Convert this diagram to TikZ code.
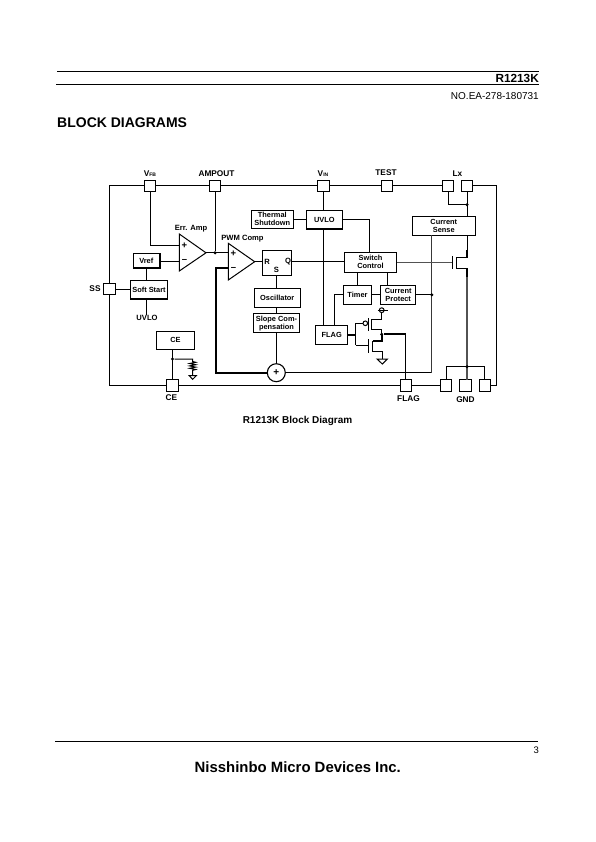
\documentclass[tikz,border=0pt]{standalone}
\usepackage{fontspec}
\setmainfont{Liberation Sans}
\usetikzlibrary{calc}
\tikzset{
  lbl/.style={font=\fontsize{7.6}{8}\selectfont\bfseries,inner sep=0pt,align=center},
  pinlbl/.style={font=\fontsize{8.3}{9}\selectfont\bfseries,inner sep=0pt,align=center},
  sgn/.style={font=\fontsize{9.5}{9.5}\selectfont\bfseries,inner sep=0pt},
  box/.style={draw,line width=1pt,fill=white,font=\fontsize{7.4}{8.6}\selectfont\bfseries,inner sep=0pt,align=center,minimum width=#1},
  pin/.style={draw,line width=1pt,fill=white,minimum width=11.5pt,minimum height=11.5pt,inner sep=0pt},
  wire/.style={line width=1pt},
  thickwire/.style={line width=1.8pt},
  graywire/.style={line width=1.3pt,black!68},
  jdot/.style={circle,fill=black,inner sep=0pt,minimum size=3.4pt},
  amp/.style={draw,line width=1pt,fill=white},
}
\begin{document}
\begin{tikzpicture}[x=1pt,y=-1pt]
\useasboundingbox (0,0) rectangle (595,842);
% page furniture
\coordinate (hl) at (57,71.2); \coordinate (hr) at (538.5,71.2);
\coordinate (hl2) at (56,84.2); \coordinate (hr2) at (538.5,84.2);
\draw[line width=.75pt] (hl) -- (hr);
\draw[line width=.75pt] (hl2) -- (hr2);
\node[anchor=base east,inner sep=0pt,font=\fontsize{11.8}{12}\selectfont\bfseries] (hdr) at (539,82.6) {R1213K};
\node[anchor=base east,inner sep=0pt,font=\fontsize{10}{12}\selectfont] (doc) at (539,100) {NO.EA-278-180731};
\node[anchor=base west,inner sep=0pt,font=\fontsize{14}{16}\selectfont\bfseries] (ttl) at (57,128) {BLOCK DIAGRAMS};
\node[anchor=base,inner sep=0pt,font=\fontsize{10}{10}\selectfont\bfseries] (cap) at (297.5,423.5) {R1213K Block Diagram};
\coordinate (fl) at (55,741); \coordinate (fr) at (537.5,741);
\draw[line width=.75pt] (fl) -- (fr);
\node[anchor=base east,inner sep=0pt,font=\fontsize{9.5}{12}\selectfont] (pg) at (539,753.5) {3};
\node[anchor=base,inner sep=0pt,font=\fontsize{14.9}{16}\selectfont\bfseries] (ft) at (297.8,772) {Nisshinbo Micro Devices Inc.};

% pins
\node[pin] (vfb) at (150,186) {};
\node[pin] (ampout) at (215,186) {};
\node[pin] (vin) at (323.3,186) {};
\node[pin] (test) at (387,186) {};
\node[pin] (lx1) at (448,186) {};
\node[pin] (lx2) at (467,186) {};
\node[pin] (ss) at (109.5,289) {};
\node[pin] (cepin) at (172.5,385.5) {};
\node[pin] (flagpin) at (406,385.5) {};
\node[pin] (g1) at (446,385.5) {};
\node[pin] (g2) at (465.5,385.5) {};
\node[pin] (g3) at (485,385.5) {};
% frame
\coordinate (c1) at (109.5,186); \coordinate (c2) at (496.5,186);
\coordinate (c3) at (496.5,385.5); \coordinate (c4) at (109.5,385.5);
\begin{scope}[wire]
\draw (vfb.west) -- (c1) -- (ss.north);
\draw (ss.south) -- (c4) -- (cepin.west);
\draw (vfb.east) -- (ampout.west);
\draw (ampout.east) -- (vin.west);
\draw (vin.east) -- (test.west);
\draw (test.east) -- (lx1.west);
\draw (lx2.east) -- (c2) -- (c3) -- (g3.east);
\draw (cepin.east) -- (flagpin.west);
\draw (flagpin.east) -- (g1.west);
\end{scope}

% blocks
\node[box=26pt,minimum height=14pt] (vref) at (146.3,260.7) {Vref};
\node[box=36.5pt,minimum height=18.5pt] (soft) at (149,289.6) {Soft Start};
\node[box=29.5pt,minimum height=24.5pt] (rs) at (277,263) {};
\node[box=45.5pt,minimum height=19pt] (osc) at (277.3,297.8) {Oscillator};
\node[box=46.5pt,minimum height=18.5pt,yshift=0pt] (slope) at (276.5,323.2) {\raisebox{-.8pt}{Slope Com-}\\pensation};
\node[box=42pt,minimum height=18pt] (therm) at (272.3,219.3) {\raisebox{-.5pt}{Thermal}\\Shutdown};
\node[box=36pt,minimum height=18pt] (uvlo) at (324.3,219.7) {UVLO};
\node[box=63pt,minimum height=19pt] (sense) at (443.8,225.8) {\raisebox{-.5pt}{Current}\\Sense};
\node[box=52.5pt,minimum height=20pt] (sw) at (370.5,262.3) {\raisebox{-.5pt}{Switch}\\Control};
\node[box=28.5pt,minimum height=19pt] (timer) at (357.5,294.8) {Timer};
\node[box=35pt,minimum height=19pt] (prot) at (398.2,294.8) {\raisebox{-.5pt}{Current}\\Protect};
\node[box=32.5pt,minimum height=18.5pt] (flagb) at (331.7,334.8) {FLAG};
\node[box=38.5pt,minimum height=18pt] (ceb) at (175.5,340.3) {CE};
\node[draw,circle,line width=1.1pt,fill=white,minimum size=18pt,inner sep=0pt,font=\fontsize{10}{10}\selectfont\bfseries] (sum) at (276.3,372.7) {+};
% shadow edges
\draw[line width=1.4pt] (vref.south west) -- (vref.south east) -- (vref.north east);
\draw[line width=1.4pt] (soft.south west) -- (soft.south east);
\draw[line width=1.4pt] (uvlo.south west) -- (uvlo.south east);

% amplifiers
\coordinate (ea1) at (179.3,234); \coordinate (ea2) at (179.3,271); \coordinate (eatip) at (206,252.8);
\coordinate (pw1) at (228.3,243.3); \coordinate (pw2) at (228.3,280); \coordinate (pwtip) at (254.7,261.7);
\draw[amp] (ea1) -- (eatip) -- (ea2) -- cycle;
\draw[amp] (pw1) -- (pwtip) -- (pw2) -- cycle;
\node[sgn] (eap) at (184.5,245.3) {+};
\node[sgn] (eam) at (184.5,261) {–};
\node[sgn] (pwp) at (233.5,254) {+};
\node[sgn] (pwm) at (233.5,268.5) {–};
\coordinate (eain1) at (179.3,245.7); \coordinate (eain2) at (179.3,261);
\coordinate (pwin1) at (228.3,252.8); \coordinate (pwin2) at (228.3,268.3);
% RS labels
\node[lbl] (rl) at (267,262) {R};
\node[lbl] (sl) at (276.5,270) {S};
\node[lbl] (ql) at (288,262) {Q};

% labels
\node[pinlbl] (lvfb) at (150,173.5) {V\raisebox{-.2pt}{\fontsize{5}{5}\selectfont FB}};
\node[pinlbl] (lamp) at (216.5,173.5) {AMPOUT};
\node[pinlbl] (lvin) at (323,173.5) {V\raisebox{-.2pt}{\fontsize{5}{5}\selectfont IN}};
\node[pinlbl] (ltest) at (386,173) {TEST};
\node[pinlbl] (llx) at (457.5,173.5) {Lx};
\node[pinlbl] (lss) at (95,288.5) {SS};
\node[lbl] (lerr) at (191,229) {Err. Amp};
\node[lbl] (lpwm) at (242.5,239) {PWM Comp};
\node[lbl] (luvlo) at (147,317.5) {UVLO};
\node[pinlbl] (lce) at (171.5,397.5) {CE};
\node[pinlbl] (lflag) at (408.5,398.5) {FLAG};
\node[pinlbl] (lgnd) at (465.5,399.5) {GND};

% left-hand wires
\begin{scope}[wire]
\draw (vfb.south) |- (eain1);
\draw (vref.east |- eain2) -- (eain2);
\draw (vref.south) -- (vref.south |- soft.north);
\draw (vref.south |- soft.south) -- (vref.south |- luvlo.north);
\draw (ss.east) -- (soft.west |- ss.east);
\draw (eatip) -- (pwin1);
\node[jdot] (j1) at (ampout.south |- pwin1) {};
\draw (ampout.south) -- (j1);
\draw (pwtip) -- (rs.west |- pwtip);
\draw (sum.north |- rs.south) -- (sum.north |- osc.north);
\draw (sum.north |- osc.south) -- (sum.north |- slope.north);
\draw (sum.north |- slope.south) -- (sum.north);
\draw (rs.east |- pwtip) -- (sw.west |- pwtip);
% CE
\draw (cepin.north |- ceb.south) -- (cepin.north);
\node[jdot] (j2) at (cepin.north |- 0,359) {};
\coordinate (rtop) at (192.7,359);
\coordinate (rtri) at (192.7,375.7);
\draw (j2) -- (rtop) -- ++(0,2.5) -- ++(3,.8) -- ++(-6,1.2) -- ++(6,1.2) -- ++(-6,1.2) -- ++(6,1.2) -- ++(-6,1.2) -- ++(6,1.2) -- ++(-3,.8) -- (rtri);
\draw (189.2,375.7) -- (196.3,375.7) -- (192.7,379.3) -- cycle;
\end{scope}
\draw[thickwire] (pwin2) -| (215.7,372.7) -- (sum.west);
\coordinate (fbk) at (431.8,372.7);
\draw[wire] (sum.east) -- (fbk);

% upper right wires
\begin{scope}[wire]
\draw (vin.south) -- (vin.south |- uvlo.north);
\draw (therm.east |- uvlo.west) -- (uvlo.west);
\draw (vin.south |- uvlo.south) -- (vin.south |- flagb.north);
\draw (uvlo.east) -| (369,252.3);
\draw (357.7,272.3) -- (357.7,285.3);
\draw (387.7,272.3) -- (387.7,285.3);
\draw (timer.east) -- (prot.west);
\draw (timer.west) -| (334.7,325.5);
\draw (prot.east) -- (431.8,294.8);
\coordinate (lxj) at (lx2.south |- 0,204.7);
\draw (lx1.south) |- (lxj);
\draw (lx2.south) -- (lx2.south |- sense.north);
\end{scope}
\node[jdot] (j4) at (lxj) {};
\draw[graywire,black!78] (431.8,235.3) -- (fbk);
\draw[graywire] (sw.east) -- (452.3,262.3);
\node[jdot] (j3) at (431.8,294.8) {};

% power FET
\coordinate (pg1) at (452.5,256); \coordinate (pg2) at (452.5,269);
\coordinate (pd) at (467,257.7); \coordinate (ps) at (467,268.2);
\draw[wire] (pg1) -- (pg2);
\draw[wire] (lx2.south |- sense.south) -- (467,250);
\draw[thickwire] (467,250) -- (pd);
\draw[wire] (pd) -- (456.3,257.7) -- (456.3,268.2) -- (ps);
\draw[thickwire] (ps) -- (467,277);
\draw[graywire] (467,277) -- (467,379.7);

% FLAG drivers
\coordinate (bus) at (355.5,334.8);
\coordinate (drain) at (381.7,334.3);
\draw[thickwire] (flagb.east) -- (bus);
\draw[thickwire] (355.5,323.3) -- (355.5,345);
\draw[wire] (355.5,323.3) -- (363,323.3);
\node[draw,circle,line width=1pt,inner sep=0pt,minimum size=4.6pt] (bub) at (365.3,323.3) {};
\draw[wire] (368.3,318.3) -- (368.3,330.7);
\draw[wire] (381.7,312.6) |- (371.7,319.3) -- (371.7,329.3) -- (381.7,329.3) -- (drain);
\node[draw,circle,line width=1pt,inner sep=0pt,minimum size=4.8pt] (vc) at (381.7,310.2) {};
\draw[wire] (377.5,310.2) -- (388,310.2);
\draw[wire] (355.5,345) -- (368.7,345);
\draw[wire] (368.7,339.3) -- (368.7,352.7);
\draw[thickwire] (drain) |- (372.7,341);
\draw[wire] (372.7,340.5) -- (372.7,351.7) -- (382.3,351.7) -- (382.3,359);
\draw[wire] (377,359) -- (387.5,359) -- (382.3,364) -- cycle;
\node[jdot] (j5) at (drain) {};
\draw[thickwire] (j5) -- (405.7,334.3);
\draw[wire] (405.7,334.3) -- (405.7,379.8);

% GND bus
\coordinate (b1) at (446.7,366.7); \coordinate (b2) at (484.7,366.7);
\draw[wire] (446.7,379.8) |- (b2) -- (484.7,379.8);
\node[jdot] (j6) at (467,366.7) {};
\end{tikzpicture}
\end{document}
